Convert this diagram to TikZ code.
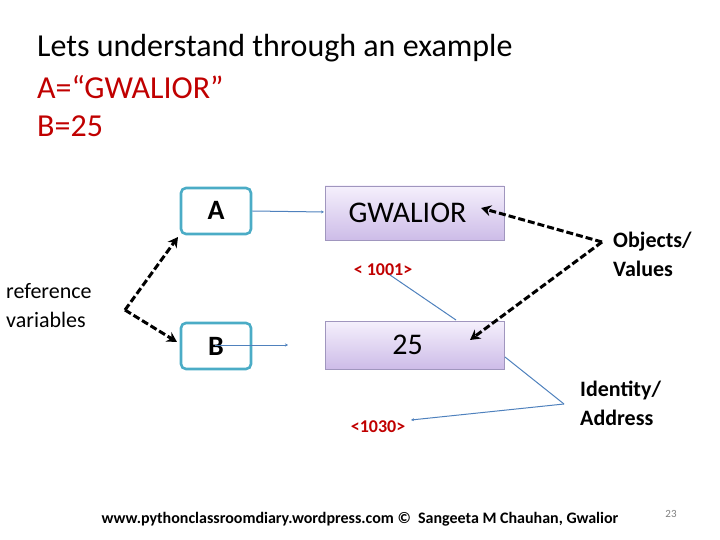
\documentclass[tikz,border=0pt]{standalone}
\usepackage{fontspec}
\setmainfont{Carlito}
\usetikzlibrary{arrows.meta}
\begin{document}
\begin{tikzpicture}[x=1pt,y=-1pt,
  varbox/.style={draw={rgb,255:red,75;green,172;blue,198},line width=2.6pt,rounded corners=5pt,minimum width=70pt,minimum height=46pt,font=\bfseries\fontsize{28}{30}\selectfont,inner sep=0pt},
  valbox/.style={draw={rgb,255:red,160;green,150;blue,190},line width=0.5pt,top color={rgb,255:red,245;green,240;blue,252},bottom color={rgb,255:red,205;green,188;blue,232},minimum width=179pt,inner sep=0pt,font=\fontsize{30}{32}\selectfont},
  thin/.style={draw={rgb,255:red,79;green,129;blue,189},line width=1pt},
  dasharrow/.style={draw=black,line width=3pt,dash pattern=on 7pt off 3pt,-{Stealth[length=10pt,width=11pt]}},
  addr/.style={text={rgb,255:red,192;green,0;blue,0},font=\bfseries\fontsize{18}{20}\selectfont,inner sep=0pt},
  lbl/.style={font=\fontsize{24}{29}\selectfont,align=left,inner sep=0pt,anchor=west}
]
\useasboundingbox (0,0) rectangle (720,540);
\node[anchor=west,font=\fontsize{32}{36}\selectfont,inner sep=0pt] (t1) at (37,48) {Lets understand through an example};
\node[anchor=west,font=\fontsize{32}{36}\selectfont,inner sep=0pt,text={rgb,255:red,192;green,0;blue,0}] (t2) at (37,87) {A=“GWALIOR”};
\node[anchor=west,font=\fontsize{32}{36}\selectfont,inner sep=0pt,text={rgb,255:red,192;green,0;blue,0}] (t3) at (37,126) {B=25};

\node[varbox] (A) at (216,211) {\raisebox{2pt}{A}};
\node[varbox] (B) at (216,346) {B};
\node[valbox,minimum height=54pt] (G) at (414.5,213) {\hspace*{-14pt}GWALIOR};
\node[valbox,minimum height=48pt] (V) at (414.5,345) {\hspace*{-14pt}25};

\coordinate (ae) at (324,212);
\draw[thin,-{Stealth[length=3pt,width=3pt]}] (A.east) -- (ae);
\coordinate (bs) at (215,345);
\coordinate (be) at (288,345);
\draw[thin,-{Stealth[length=3pt,width=3pt]}] (bs) -- (be);

\node[lbl,font=\fontsize{22}{29}\selectfont] (rv) at (6,306) {reference\\variables};
\coordinate (rc) at (125,310);
\draw[dasharrow] (rc) -- (178,237);
\draw[dasharrow] (rc) -- (177,342);

\node[lbl,font=\bfseries\fontsize{22}{29}\selectfont] (ov) at (613,254) {Objects/\\Values};
\coordinate (oc) at (602,242);
\draw[dasharrow] (oc) -- (481,208);
\draw[dasharrow] (oc) -- (470,340);

\node[addr] (a1) at (383,270) {< 1001>};
\coordinate (a1e) at (390,275);
\coordinate (vt) at (456,320);
\draw[thin] (vt) -- (a1e);

\node[lbl,font=\bfseries\fontsize{22}{29}\selectfont] (ia) at (580,403) {Identity/\\Address};
\coordinate (ic) at (564,404);
\coordinate (vr) at (505,357);
\node[addr] (a2) at (378,427) {<1030>};
\draw[thin] (ic) -- (vr);
\draw[thin,-{Stealth[length=3pt,width=3pt]}] (ic) -- (411,420);

\node[font=\bfseries\fontsize{16}{18}\selectfont,inner sep=0pt] (ft) at (360,519) {www.pythonclassroomdiary.wordpress.com © \ Sangeeta M Chauhan, Gwalior};
\node[font=\fontsize{11}{12}\selectfont,text=gray,inner sep=0pt] (pg) at (671,514) {23};
\end{tikzpicture}
\end{document}
